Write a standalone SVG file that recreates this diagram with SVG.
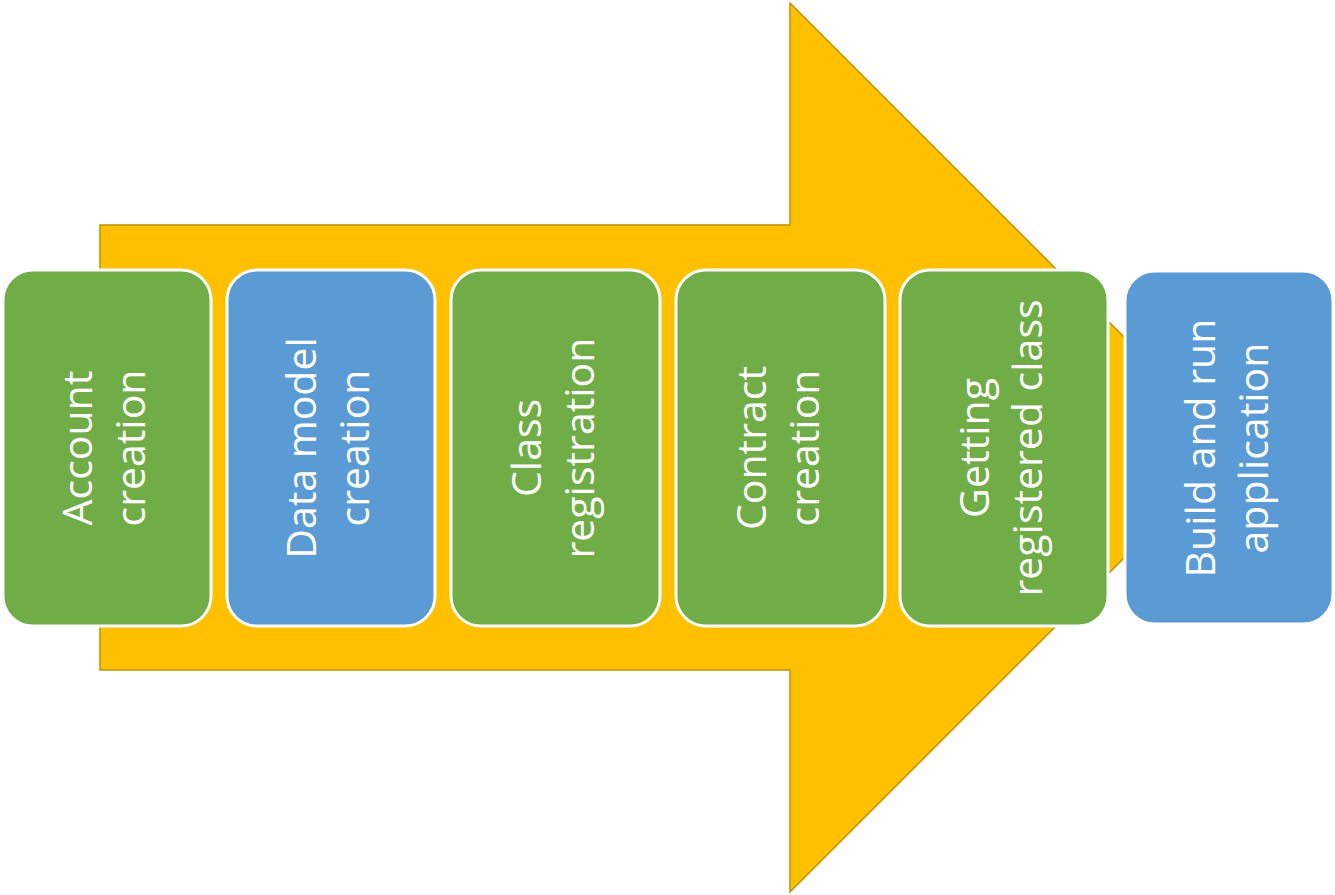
<svg xmlns="http://www.w3.org/2000/svg" width="1335" height="895" viewBox="0 0 1335 895">
<style>
.arrow{fill:#FFC000;stroke:#BF9000;stroke-width:1.5}
.box{stroke:#FFFFFF;stroke-width:3}
.g{fill:#70AD47}
.b{fill:#5B9BD5}
.t{font-family:"Open Sans","Segoe UI","Noto Sans",sans-serif;font-size:41px;fill:#FFFFFF;text-anchor:middle}
</style>
<rect width="1335" height="895" fill="#FFFFFF"/>
<g id="arrow">
<polygon class="arrow" points="100,225 790,225 790,3 1234.5,447.5 790,892 790,670 100,670"/>
</g>
<g id="connectors"></g>
<g id="n1">
<rect class="box g" x="3" y="270" width="208" height="356" rx="30"/>
<g transform="translate(107,448) rotate(-90)"><text class="t"><tspan x="0" y="-15">Account</tspan><tspan x="0" y="38">creation</tspan></text></g>
</g>
<g id="n2">
<rect class="box b" x="227" y="270" width="208" height="356" rx="30"/>
<g transform="translate(331,448) rotate(-90)"><text class="t"><tspan x="0" y="-15">Data model</tspan><tspan x="0" y="38">creation</tspan></text></g>
</g>
<g id="n3">
<rect class="box g" x="451" y="270" width="209" height="356" rx="30"/>
<g transform="translate(555.5,448) rotate(-90)"><text class="t"><tspan x="0" y="-15">Class</tspan><tspan x="0" y="38">registration</tspan></text></g>
</g>
<g id="n4">
<rect class="box g" x="676" y="270" width="209" height="356" rx="30"/>
<g transform="translate(780.5,448) rotate(-90)"><text class="t"><tspan x="0" y="-15">Contract</tspan><tspan x="0" y="38">creation</tspan></text></g>
</g>
<g id="n5">
<rect class="box g" x="900" y="270" width="208" height="356" rx="30"/>
<g transform="translate(1004,448) rotate(-90)"><text class="t"><tspan x="0" y="-15">Getting</tspan><tspan x="0" y="38">registered class</tspan></text></g>
</g>
<g id="n6">
<rect class="box b" x="1125" y="271" width="208" height="353" rx="30"/>
<g transform="translate(1229,448) rotate(-90)"><text class="t"><tspan x="0" y="-14">Build and run</tspan><tspan x="0" y="39">application</tspan></text></g>
</g>
</svg>
